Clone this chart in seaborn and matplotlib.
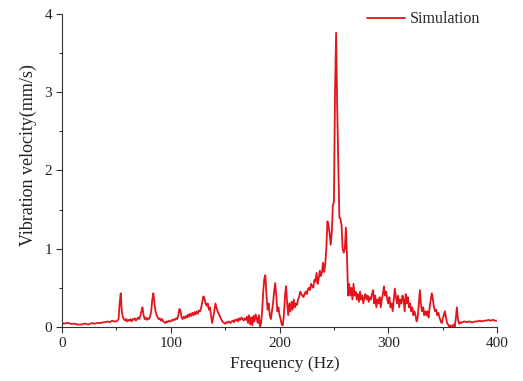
import matplotlib
matplotlib.use("Agg")
import matplotlib.pyplot as plt
import pandas as pd
import seaborn as sns
from matplotlib.ticker import MultipleLocator

# frequency grid (Hz)
freq_low = list(range(0, 50, 2))
freq_mid = list(range(50, 368))
freq_high = list(range(368, 401, 2))

vel_low = [0.05, 0.04, 0.05, 0.05, 0.04, 0.04, 0.04, 0.03, 0.03, 0.03,
           0.04, 0.04, 0.03, 0.04, 0.05, 0.04, 0.05, 0.05, 0.05, 0.06,
           0.06, 0.07, 0.06, 0.08, 0.07]

vel_mid = [
    0.07, 0.08, 0.10, 0.30, 0.43, 0.20, 0.12, 0.10, 0.08, 0.10,   # 50
    0.07, 0.09, 0.08, 0.10, 0.07, 0.10, 0.09, 0.11, 0.08, 0.10,   # 60
    0.12, 0.10, 0.14, 0.20, 0.25, 0.15, 0.10, 0.12, 0.09, 0.11,   # 70
    0.10, 0.13, 0.20, 0.35, 0.43, 0.30, 0.20, 0.15, 0.12, 0.10,   # 80
    0.11, 0.08, 0.10, 0.07, 0.06, 0.05, 0.07, 0.06, 0.08, 0.07,   # 90
    0.07, 0.09, 0.08, 0.10, 0.09, 0.11, 0.10, 0.15, 0.23, 0.20,   # 100
    0.12, 0.10, 0.13, 0.11, 0.14, 0.12, 0.16, 0.13, 0.17, 0.14,   # 110
    0.18, 0.15, 0.19, 0.16, 0.20, 0.17, 0.21, 0.20, 0.25, 0.32,   # 120
    0.39, 0.36, 0.30, 0.27, 0.30, 0.22, 0.25, 0.15, 0.05, 0.12,   # 130
    0.20, 0.30, 0.25, 0.20, 0.17, 0.14, 0.11, 0.08, 0.06, 0.05,   # 140
    0.04, 0.06, 0.05, 0.07, 0.06, 0.05, 0.07, 0.08, 0.06, 0.09,   # 150
    0.08, 0.10, 0.07, 0.11, 0.09, 0.12, 0.10, 0.08, 0.11, 0.09,   # 160
    0.13, 0.05, 0.15, 0.03, 0.12, 0.02, 0.14, 0.07, 0.16, 0.10,   # 170
    0.05, 0.15, 0.00, 0.05, 0.20, 0.45, 0.62, 0.66, 0.40, 0.22,   # 180
    0.30, 0.15, 0.10, 0.20, 0.30, 0.45, 0.56, 0.40, 0.20, 0.25,   # 190
    0.15, 0.10, 0.03, 0.02, 0.15, 0.40, 0.52, 0.30, 0.15, 0.30,   # 200
    0.20, 0.32, 0.22, 0.35, 0.25, 0.30, 0.28, 0.35, 0.38, 0.45,   # 210
    0.42, 0.40, 0.38, 0.42, 0.45, 0.42, 0.48, 0.50, 0.47, 0.55,   # 220
    0.52, 0.50, 0.60, 0.58, 0.69, 0.55, 0.62, 0.72, 0.65, 0.70,   # 230
    0.82, 0.70, 0.80, 1.00, 1.35, 1.30, 1.20, 1.05, 1.20, 1.55,   # 240
    1.60, 3.00, 3.76, 2.80, 2.10, 1.40, 1.38, 1.30, 1.00, 0.95,   # 250
    1.00, 1.27, 0.90, 0.40, 0.55, 0.40, 0.50, 0.35, 0.55, 0.40,   # 260
    0.45, 0.35, 0.42, 0.32, 0.45, 0.35, 0.40, 0.30, 0.38, 0.42,   # 270
    0.35, 0.40, 0.32, 0.38, 0.35, 0.42, 0.47, 0.30, 0.40, 0.25,   # 280
    0.35, 0.30, 0.38, 0.25, 0.35, 0.42, 0.52, 0.40, 0.45, 0.35,   # 290
    0.30, 0.38, 0.25, 0.30, 0.20, 0.35, 0.49, 0.38, 0.30, 0.40,   # 300
    0.25, 0.35, 0.30, 0.40, 0.35, 0.20, 0.42, 0.30, 0.38, 0.25,   # 310
    0.30, 0.20, 0.25, 0.15, 0.20, 0.15, 0.07, 0.12, 0.30, 0.47,   # 320
    0.28, 0.20, 0.25, 0.15, 0.20, 0.15, 0.20, 0.12, 0.25, 0.35,   # 330
    0.43, 0.35, 0.25, 0.20, 0.22, 0.15, 0.18, 0.12, 0.08, 0.05,   # 340
    0.10, 0.15, 0.20, 0.12, 0.05, 0.03, 0.00, 0.02, 0.00, 0.01,   # 350
    0.03, 0.00, 0.10, 0.25, 0.10, 0.04, 0.06, 0.05,               # 360
]

vel_high = [0.06, 0.07, 0.06, 0.07, 0.06, 0.06, 0.07, 0.07, 0.08,
            0.07, 0.08, 0.08, 0.09, 0.08, 0.09, 0.08, 0.08]

df = pd.DataFrame({
    'Frequency': freq_low + freq_mid + freq_high,
    'Velocity': vel_low + vel_mid + vel_high,
})
df['Series'] = 'Simulation'

sns.set_style('ticks')
plt.rcParams['font.family'] = ['Liberation Serif', 'DejaVu Serif']

fig = plt.figure(figsize=(5.23, 3.81), dpi=100)
ax = fig.add_axes([0.1185, 0.142, 0.832, 0.821])

sns.lineplot(data=df, x='Frequency', y='Velocity', hue='Series',
             palette=['#e3141c'], linewidth=1.3, ax=ax)

ax.set_xlim(0, 400)
ax.set_ylim(0, 4)
ax.xaxis.set_major_locator(MultipleLocator(100))
ax.xaxis.set_minor_locator(MultipleLocator(50))
ax.yaxis.set_major_locator(MultipleLocator(1))
ax.yaxis.set_minor_locator(MultipleLocator(0.5))
ax.tick_params(which='major', length=4, width=0.8, colors='#333333',
               labelsize=11, labelcolor='#222222', pad=3)
ax.tick_params(which='minor', length=2.5, width=0.8, colors='#333333')
for s in ['left', 'bottom']:
    ax.spines[s].set_color('#333333')
sns.despine(ax=ax)

ax.set_xlabel('Frequency (Hz)', fontsize=12.5, color='#222222')
ax.set_ylabel('Vibration velocity(mm/s)', fontsize=13, color='#222222')
ax.xaxis.set_label_coords(0.512, -0.093)
ax.yaxis.set_label_coords(-0.058, 0.548)

leg = ax.legend(loc='upper right', bbox_to_anchor=(0.995, 1.055), frameon=False,
                fontsize=11.5, handlelength=2.4, handletextpad=0.3)

fig.savefig('out.png', dpi=100)
